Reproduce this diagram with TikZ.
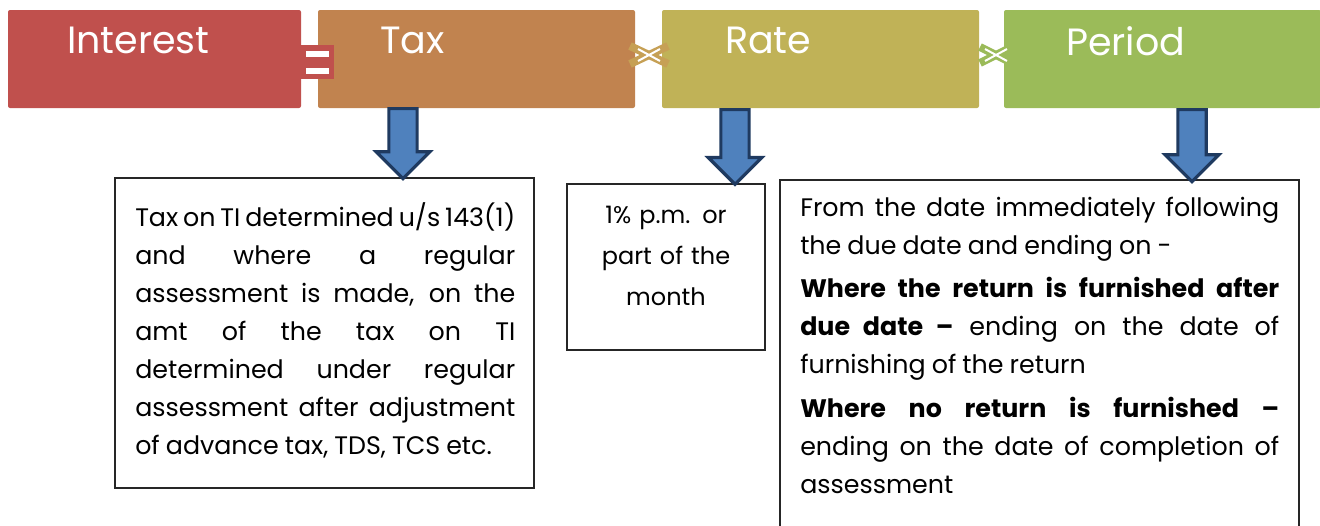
\documentclass[tikz,border=0pt]{standalone}
\usepackage{fontspec}
\setmainfont{Poppins}[WordSpace=0.9]
\usetikzlibrary{positioning,calc,shapes.arrows}

\definecolor{intred}{HTML}{C0504D}
\definecolor{taxbrown}{HTML}{C1834F}
\definecolor{rateolive}{HTML}{C0B257}
\definecolor{pergreen}{HTML}{9BBB59}
\definecolor{multan}{HTML}{C6A055}
\definecolor{arrowblue}{HTML}{4F81BD}
\definecolor{arrownavy}{HTML}{1F3A60}

\begin{document}
\begin{tikzpicture}[x=0.75pt,y=-0.75pt,
  headbox/.style={rounded corners=1.5pt,minimum width=237.75pt,minimum height=73.5pt,inner sep=0pt},
  headlabel/.style={anchor=west,text=white,font=\fontsize{28.5}{34}\selectfont,inner sep=0pt},
  infobox/.style={draw=black!85,line width=0.8pt,inner sep=0pt},
  infotext/.style={anchor=north west,inner sep=0pt,font=\fontsize{19}{28.5}\selectfont,align=justify},
  downarrow/.style={single arrow,draw=arrownavy,fill=arrowblue,line width=2.4pt,rotate=-90,anchor=tail,
    inner xsep=0pt,inner ysep=9.4pt,single arrow head extend=9.5pt,minimum height=53pt}]
\useasboundingbox (0,0) rectangle (1320,525);
\clip (0,0) rectangle (1320,525);

% header boxes
\node[headbox,fill=intred,minimum width=219.75pt] (interest) at (154.5,59) {};
\node[headbox,fill=taxbrown] (tax) at (476.5,59) {};
\node[headbox,fill=rateolive] (rate) at (820.5,59) {};
\node[headbox,fill=pergreen] (period) at (1162.5,59) {};
\node[headlabel] (interestlbl) at ($(interest.north west)+(59,31)$) {Interest};
\node[headlabel] (taxlbl) at ($(tax.north west)+(62,31)$) {Tax};
\node[headlabel] (ratelbl) at ($(rate.north west)+(63,31)$) {Rate};
\node[headlabel] (periodlbl) at ($(period.north west)+(62,31)$) {Period};

% equals and multiply signs
\fill[intred] (301,45) rectangle (334,79);
\fill[white] (306,51) rectangle (329,57);
\fill[white] (306,68) rectangle (329,74);
\begin{scope}[shift={(649,55)}]
\draw[multan,line width=6pt] (-19,-9)--(19,9) (-19,9)--(19,-9);
\draw[white,line width=1.5pt] (-11,-6)--(11,6) (-11,6)--(11,-6);
\end{scope}
\begin{scope}[shift={(996,55)}]
\draw[pergreen,line width=6pt] (-16,-8)--(16,8) (-16,8)--(16,-8);
\draw[white,line width=1.5pt] (-11,-6)--(11,6) (-11,6)--(11,-6);
\end{scope}

% text boxes
\node[infobox,minimum width=314.25pt,minimum height=232.5pt] (taxbox) at (324.5,333) {};
\node[infobox,minimum width=148.5pt,minimum height=124.5pt] (ratebox) at (666,267) {};
\node[infobox,minimum width=389.25pt,minimum height=270pt] (perbox) at (1039.5,360) {};

\node[infotext,text width=285pt] (taxtxt) at (135,202)
  {Tax on TI determined u/s 143(1)\linebreak and where a regular\linebreak
   assessment is made, on the\linebreak amt of the tax on TI\linebreak
   determined under regular\linebreak assessment after adjustment\linebreak
   of advance tax, TDS, TCS etc.};
\node[infotext,anchor=north,text width=148pt,align=center,font=\fontsize{18}{30.75}\selectfont] (ratetxt) at (666,206)
  {1\% p.m. or\\ part of the\\ month};
\node[infotext,text width=359.25pt] (pertxt) at (800,197)
  {From the date immediately following\linebreak the due date and ending on -\par\vspace{4pt}
   \textbf{Where the return is furnished after\linebreak due date –} ending on the date of\linebreak
   furnishing of the return\par\vspace{4pt}
   \textbf{Where no return is furnished –}\linebreak ending on the date of completion of\linebreak
   assessment};

% block arrows
\node[downarrow,minimum height=52.5pt] (taxarrow) at (403,107) {};
\node[downarrow,minimum height=56pt] (ratearrow) at (735,108) {};
\node[downarrow,minimum height=54pt] (perarrow) at (1192,108) {};
\end{tikzpicture}
\end{document}
